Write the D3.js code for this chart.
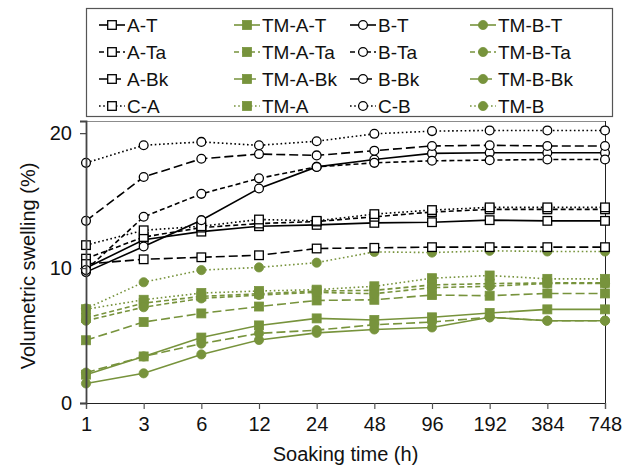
<!DOCTYPE html>
<html><head><meta charset="utf-8">
<script src="https://cdn.jsdelivr.net/npm/d3@7"></script>
<style>body{margin:0;background:#fff;} svg{display:block;font-family:"Liberation Sans",Arial,sans-serif;}</style>
</head><body>
<svg id="c" width="633" height="467"></svg>
<script>
const categories = ["1","3","6","12","24","48","96","192","384","748"];
const yTicks = [0, 10, 20];
const A_T   = [10.0, 12.1, 12.7, 13.1, 13.2, 13.35, 13.4, 13.55, 13.5, 13.5];
const A_Ta  = [10.7, 12.3, 13.0, 13.3, 13.45, 13.8, 14.15, 14.35, 14.35, 14.35];
const A_Bk  = [10.3, 10.65, 10.8, 10.95, 11.45, 11.5, 11.55, 11.55, 11.55, 11.55];
const C_A   = [11.7, 12.8, 13.1, 13.6, 13.5, 14.0, 14.3, 14.5, 14.5, 14.5];
const B_T   = [9.7, 11.6, 13.55, 15.9, 17.5, 18.05, 18.5, 18.55, 18.55, 18.55];
const B_Ta  = [9.85, 13.8, 15.5, 16.65, 17.5, 17.8, 17.95, 18.0, 18.05, 18.05];
const B_Bk  = [13.5, 16.75, 18.1, 18.45, 18.35, 18.7, 19.05, 19.1, 19.05, 19.05];
const C_B   = [17.8, 19.1, 19.35, 19.1, 19.4, 19.95, 20.15, 20.2, 20.2, 20.2];
const TM_A_T  = [2.1, 3.45, 4.85, 5.75, 6.27, 6.15, 6.35, 6.67, 6.94, 6.94];
const TM_A_Ta = [6.3, 7.4, 7.9, 8.1, 8.3, 8.35, 8.75, 8.85, 8.9, 8.9];
const TM_A_Bk = [4.65, 6.0, 6.64, 7.15, 7.6, 7.65, 8.0, 7.95, 8.12, 8.12];
const TM_A    = [6.95, 7.65, 8.15, 8.3, 8.4, 8.65, 9.25, 9.45, 9.2, 9.2];
const TM_B_T  = [1.45, 2.2, 3.6, 4.67, 5.2, 5.45, 5.6, 6.35, 6.1, 6.1];
const TM_B_Ta = [6.1, 7.1, 7.75, 8.0, 8.2, 8.1, 8.55, 8.65, 8.86, 8.86];
const TM_B_Bk = [2.25, 3.45, 4.4, 5.16, 5.4, 5.8, 6.0, 6.35, 6.1, 6.1];
const TM_B    = [7.0, 8.95, 9.85, 10.05, 10.4, 11.2, 11.15, 11.28, 11.23, 11.23];

const GREEN = "#77933c";
const dashT = null, dashTa = "5,3", dashBk = "9,4", dashC = "1.6,2.6";
const FS = "20px", LFS = "19px";
// legend order (column-major: 4 columns x 4 rows)
const series = [
  {name:"A-T", v:A_T, col:"#000", shape:"sq", fill:false, dash:dashT},
  {name:"A-Ta", v:A_Ta, col:"#000", shape:"sq", fill:false, dash:dashTa},
  {name:"A-Bk", v:A_Bk, col:"#000", shape:"sq", fill:false, dash:dashBk},
  {name:"C-A", v:C_A, col:"#000", shape:"sq", fill:false, dash:dashC},
  {name:"TM-A-T", v:TM_A_T, col:GREEN, shape:"sq", fill:true, dash:dashT},
  {name:"TM-A-Ta", v:TM_A_Ta, col:GREEN, shape:"sq", fill:true, dash:dashTa},
  {name:"TM-A-Bk", v:TM_A_Bk, col:GREEN, shape:"sq", fill:true, dash:dashBk},
  {name:"TM-A", v:TM_A, col:GREEN, shape:"sq", fill:true, dash:dashC},
  {name:"B-T", v:B_T, col:"#000", shape:"ci", fill:false, dash:dashT},
  {name:"B-Ta", v:B_Ta, col:"#000", shape:"ci", fill:false, dash:dashTa},
  {name:"B-Bk", v:B_Bk, col:"#000", shape:"ci", fill:false, dash:dashBk},
  {name:"C-B", v:C_B, col:"#000", shape:"ci", fill:false, dash:dashC},
  {name:"TM-B-T", v:TM_B_T, col:GREEN, shape:"ci", fill:true, dash:dashT},
  {name:"TM-B-Ta", v:TM_B_Ta, col:GREEN, shape:"ci", fill:true, dash:dashTa},
  {name:"TM-B-Bk", v:TM_B_Bk, col:GREEN, shape:"ci", fill:true, dash:dashBk},
  {name:"TM-B", v:TM_B, col:GREEN, shape:"ci", fill:true, dash:dashC}
];

const svg = d3.select("#c");
const L = 86, R = 605, T = 121, B = 403;
const x = d3.scalePoint().domain(categories).range([L, R]);
const y = d3.scaleLinear().domain([0, 20.9]).range([B, T]);

// plot frame
svg.append("line").attr("x1",L).attr("x2",R).attr("y1",T+0.5).attr("y2",T+0.5).attr("stroke","#8c8c8c").attr("stroke-width",1.2);
svg.append("line").attr("x1",R+0.5).attr("x2",R+0.5).attr("y1",T).attr("y2",B).attr("stroke","#222").attr("stroke-width",1);

function drawMarker(g, s, cx, cy) {
  if (s.shape === "sq") {
    const h = s.fill ? 4.5 : 4.3;
    g.append("rect").attr("x",cx-h).attr("y",cy-h).attr("width",2*h).attr("height",2*h)
      .attr("fill", s.fill ? s.col : "#fff").attr("stroke", s.fill ? s.col : "#000").attr("stroke-width", s.fill?0.8:1.3);
  } else {
    g.append("circle").attr("cx",cx).attr("cy",cy).attr("r", s.fill ? 4.6 : 4.4)
      .attr("fill", s.fill ? s.col : "#fff").attr("stroke", s.fill ? s.col : "#000").attr("stroke-width", s.fill?0.8:1.3);
  }
}

const line = d3.line().x((d,i)=>x(categories[i])).y(d=>y(d));
const plotOrder = [...series.filter(s=>s.col===GREEN), ...series.filter(s=>s.col!==GREEN)];
plotOrder.forEach(s => {
  const g = svg.append("g");
  g.append("path").attr("d", line(s.v)).attr("fill","none").attr("stroke", s.col)
    .attr("stroke-width", 1.6).attr("stroke-dasharray", s.dash);
  s.v.forEach((d,i) => drawMarker(g, s, x(categories[i]), y(d)));
});

// axes
const gx = svg.append("g").attr("transform",`translate(0,${B})`)
  .call(d3.axisBottom(x).tickSizeOuter(0).tickSize(6).tickPadding(8));
gx.select(".domain").attr("stroke","#222").attr("stroke-width",1.2);
gx.selectAll(".tick line").attr("stroke","#555").attr("stroke-width",1.2);
gx.selectAll("text").attr("font-size",FS).attr("fill","#111").attr("font-family","Liberation Sans, Arial, sans-serif");

const gy = svg.append("g").attr("transform",`translate(${L},0)`)
  .call(d3.axisLeft(y).tickValues(yTicks).tickSizeOuter(0).tickSize(6).tickPadding(8));
gy.select(".domain").attr("stroke","#444").attr("stroke-width",1.8);
gy.selectAll(".tick line").attr("stroke","#444").attr("stroke-width",1.2);
gy.selectAll("text").attr("font-size",FS).attr("fill","#111").attr("font-family","Liberation Sans, Arial, sans-serif");

svg.append("text").attr("x",(L+R)/2).attr("y",461).attr("text-anchor","middle")
  .attr("font-size",FS).attr("fill","#111").text("Soaking time (h)");
svg.append("text").attr("transform",`translate(35,${(T+B)/2+4}) rotate(-90)`).attr("text-anchor","middle")
  .attr("font-size",FS).attr("fill","#111").text("Volumetric swelling (%)");

// legend
svg.append("rect").attr("x",86.5).attr("y",8.5).attr("width",526).attr("height",108)
  .attr("fill","#fff").attr("stroke","#555").attr("stroke-width",1.2);
const colMarker = [112, 247, 363, 483];
const rowY = [25, 52, 79, 106];
series.forEach((s, k) => {
  const c = Math.floor(k/4), r = k%4;
  const cx = colMarker[c], cy = rowY[r];
  const g = svg.append("g");
  g.append("line").attr("x1",cx-13).attr("x2",cx+13).attr("y1",cy).attr("y2",cy)
    .attr("stroke",s.col).attr("stroke-width",1.6).attr("stroke-dasharray",s.dash);
  drawMarker(g, s, cx, cy);
  g.append("text").attr("x",cx+15).attr("y",cy+7).attr("font-size",LFS).attr("fill","#111").text(s.name);
});
</script>
</body></html>
